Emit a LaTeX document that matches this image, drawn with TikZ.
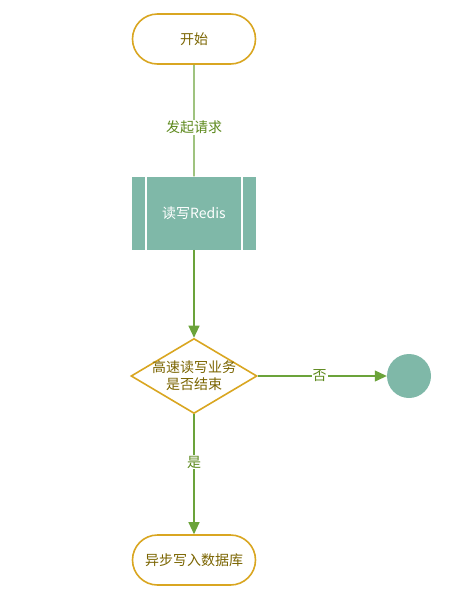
\documentclass[tikz,border=0pt]{standalone}
\usepackage{fontspec}
\setmainfont{Noto Sans CJK SC}
\usetikzlibrary{arrows.meta,shapes.geometric,shapes.misc}
\definecolor{pillline}{HTML}{D9A621}
\definecolor{pilltext}{HTML}{7A6400}
\definecolor{flowline}{HTML}{6BA33A}
\definecolor{flowtext}{HTML}{5E8A1E}
\definecolor{tealfill}{HTML}{7FB8A8}

\begin{document}
\begin{tikzpicture}[x=1pt,y=1pt,>={Triangle[length=12pt,width=11pt]},node distance=174pt,font=\fontsize{14}{17}\selectfont]
\tikzset{terminal/.style={rounded rectangle,draw=pillline,line width=1.6pt,text=pilltext,minimum width=127pt,minimum height=50pt,inner xsep=2pt}}
\tikzset{process/.style={rectangle,fill=tealfill,text=white,minimum width=124pt,minimum height=73pt}}
\tikzset{flow/.style={draw=flowline,line width=1.2pt}}
\tikzset{flowlabel/.style={fill=white,text=flowtext,inner sep=1pt}}
%\tikzstyle{every node}=[draw=red]

\useasboundingbox (0,0) rectangle (456,-595);

\node[terminal] (start) at (194,-39) {开始};
\node[process] (redis) [below of=start] {读写Redis};
\node[diamond,draw=pillline,line width=1.6pt,aspect=1.68,minimum width=126pt,minimum height=75pt,inner sep=0pt] (check) [below of=redis,node distance=163pt] {};
\node[text=pilltext,align=center] (checktext) at (check) {高速读写业务\\是否结束};
\node[terminal] (write) [below of=check,node distance=184pt] {异步写入数据库};
\node[circle,fill=tealfill,minimum size=44pt] (stop) [right of=check,node distance=215pt] {};

\draw[white,line width=1.5pt] ([xshift=14pt]redis.north west) -- ([xshift=14pt]redis.south west);
\draw[white,line width=1.5pt] ([xshift=-14pt]redis.north east) -- ([xshift=-14pt]redis.south east);

\path[flow] (start) -- node[flowlabel,pos=0.56] {发起请求} (redis);
\path[flow,->] (redis) -- (check);
\path[flow,->] (check) -- node[flowlabel,pos=0.4] {是} (write);
\path[flow,->] (check) -- node[flowlabel,pos=0.48] {否} (stop);
\end{tikzpicture}
\end{document}
